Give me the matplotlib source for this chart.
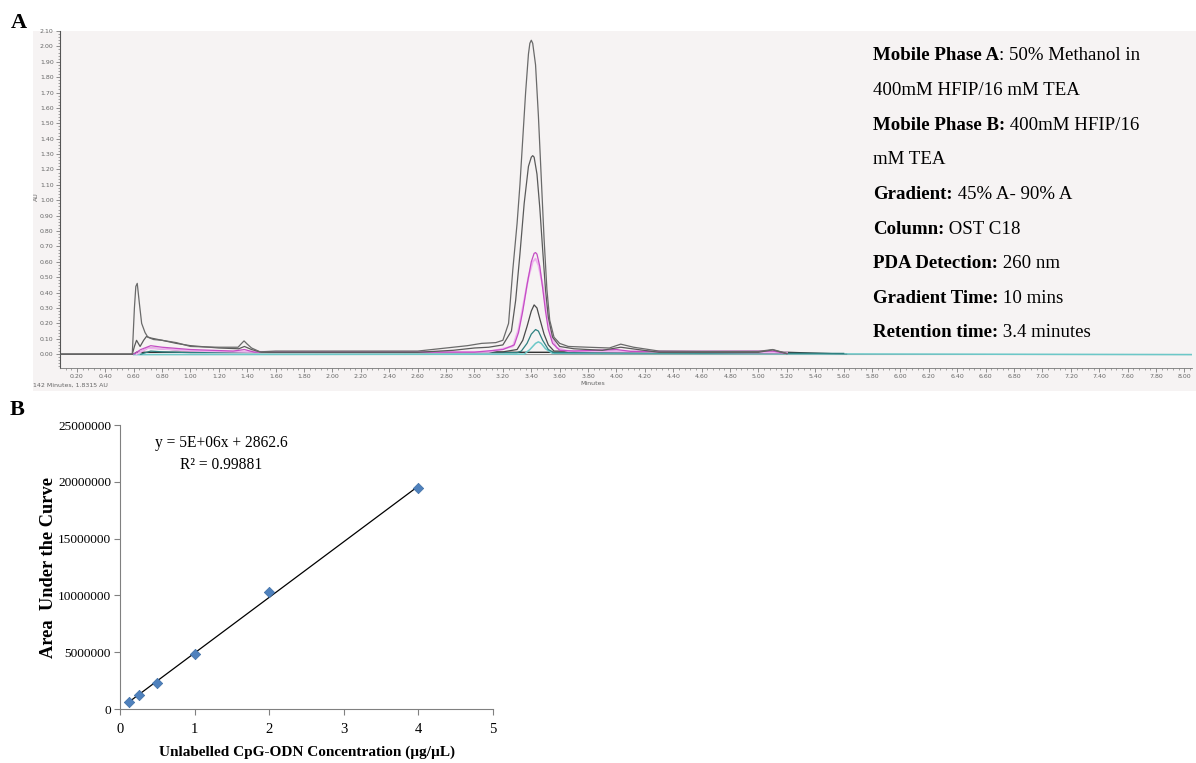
import numpy as np
import matplotlib
matplotlib.use('Agg')
import matplotlib.pyplot as plt
from matplotlib.ticker import MultipleLocator, FormatStrFormatter
from matplotlib.patches import Rectangle

# ---- panel A: chromatogram overlay (time in min, absorbance in AU) ----
t_top = [0.08, 0.59, 0.605, 0.615, 0.625, 0.64, 0.656, 0.68, 0.70, 0.74, 0.80, 0.90, 1.00,
         1.10, 1.20, 1.335, 1.36, 1.377, 1.40, 1.43, 1.49, 1.60, 2.00, 2.60, 2.80, 2.95,
         3.05, 3.15, 3.20, 3.24, 3.27, 3.30, 3.32, 3.34, 3.36, 3.38, 3.39, 3.40, 3.41,
         3.43, 3.45, 3.47, 3.49, 3.51, 3.53, 3.56, 3.60, 3.66, 3.80, 3.95, 4.03, 4.12,
         4.30, 4.60, 5.00, 5.10, 5.20]
au_top = [0.0, 0.0, 0.30, 0.44, 0.46, 0.33, 0.20, 0.14, 0.11, 0.095, 0.09, 0.075, 0.05,
          0.047, 0.045, 0.045, 0.07, 0.086, 0.065, 0.04, 0.015, 0.02, 0.02, 0.02, 0.04, 0.055,
          0.07, 0.075, 0.09, 0.20, 0.55, 0.85, 1.10, 1.40, 1.70, 1.95, 2.02, 2.04, 2.02,
          1.88, 1.55, 1.15, 0.75, 0.42, 0.22, 0.11, 0.07, 0.05, 0.045, 0.04, 0.065, 0.045,
          0.02, 0.018, 0.018, 0.03, 0.005]

t_2 = [0.59, 0.605, 0.62, 0.645, 0.67, 0.69, 0.72, 0.80, 0.90, 1.00, 1.20, 1.34, 1.38, 1.43,
       1.50, 2.60, 2.85, 3.00, 3.10, 3.20, 3.26, 3.29, 3.32, 3.35, 3.38, 3.40, 3.41, 3.42,
       3.44, 3.46, 3.48, 3.50, 3.52, 3.55, 3.60, 3.70, 3.90, 4.03, 4.15, 4.30, 5.00, 5.10, 5.20]
au_2 = [0.0, 0.05, 0.09, 0.05, 0.09, 0.115, 0.105, 0.09, 0.07, 0.055, 0.04, 0.035, 0.05, 0.03,
        0.012, 0.012, 0.025, 0.04, 0.045, 0.06, 0.15, 0.35, 0.65, 0.98, 1.22, 1.28, 1.29, 1.28,
        1.17, 0.95, 0.68, 0.42, 0.24, 0.11, 0.05, 0.035, 0.025, 0.045, 0.03, 0.012, 0.012,
        0.028, 0.003]

t_mag = [0.60, 0.65, 0.72, 0.80, 1.00, 1.30, 1.38, 1.45, 3.00, 3.20, 3.28, 3.31, 3.34, 3.37,
         3.40, 3.42, 3.43, 3.44, 3.46, 3.48, 3.50, 3.52, 3.55, 3.60, 3.70, 4.00, 4.10, 5.10, 5.20]
au_mag = [0.0, 0.03, 0.055, 0.045, 0.03, 0.02, 0.03, 0.013, 0.013, 0.03, 0.06, 0.14, 0.28,
          0.45, 0.60, 0.655, 0.66, 0.65, 0.57, 0.43, 0.28, 0.16, 0.07, 0.025, 0.02, 0.03,
          0.018, 0.02, 0.004]

t_pink = [0.62, 0.70, 0.80, 1.00, 1.40, 3.10, 3.27, 3.31, 3.35, 3.38, 3.41, 3.43, 3.45, 3.48,
          3.51, 3.54, 3.58, 3.66, 5.20]
au_pink = [0.0, 0.04, 0.035, 0.022, 0.015, 0.015, 0.05, 0.16, 0.35, 0.50, 0.60, 0.62, 0.58,
           0.45, 0.27, 0.12, 0.04, 0.02, 0.01]

t_4 = [0.62, 0.70, 0.80, 1.00, 1.40, 3.20, 3.30, 3.34, 3.37, 3.40, 3.42, 3.44, 3.46, 3.49,
       3.52, 3.56, 5.20]
au_4 = [0.0, 0.04, 0.035, 0.02, 0.015, 0.015, 0.03, 0.09, 0.18, 0.28, 0.32, 0.30, 0.23, 0.13,
        0.06, 0.02, 0.01]

t_5 = [0.65, 0.72, 0.80, 1.00, 3.30, 3.33, 3.37, 3.40, 3.43, 3.45, 3.48, 3.52, 3.56, 5.60]
au_5 = [0.0, 0.02, 0.015, 0.01, 0.01, 0.02, 0.07, 0.13, 0.16, 0.15, 0.09, 0.03, 0.01, 0.005]

t_cyan = [0.60, 3.35, 3.39, 3.43, 3.45, 3.47, 3.50, 3.55, 8.05]
au_cyan = [-0.003, 0.0, 0.03, 0.07, 0.08, 0.07, 0.035, 0.005, -0.003]

t_base = [0.08, 0.60, 0.62, 5.20, 5.62]
au_base = [0.0, 0.0, 0.012, 0.012, 0.0]

method_lines = [("Mobile Phase A", ": 50% Methanol in"),
                ("", "400mM HFIP/16 mM TEA"),
                ("Mobile Phase B:", " 400mM HFIP/16"),
                ("", "mM TEA"),
                ("Gradient:", " 45% A- 90% A"),
                ("Column:", " OST C18"),
                ("PDA Detection:", " 260 nm"),
                ("Gradient Time:", " 10 mins"),
                ("Retention time:", " 3.4 minutes")]

# ---- panel B: calibration curve ----
conc = [0.125, 0.25, 0.5, 1, 2, 4]
auc = [640000, 1230000, 2320000, 4840000, 10300000, 19430000]

W, H = 1196, 763
fig = plt.figure(figsize=(W / 100, H / 100), dpi=100)
serif = ['Liberation Serif', 'DejaVu Serif']

def fx(px):
    return px / W

def fy(py):
    return 1 - py / H

bg = '#f6f3f3'
fig.patches.append(Rectangle((fx(33), fy(391)), fx(W - 33), fy(31) - fy(391),
                             transform=fig.transFigure, facecolor=bg, edgecolor='none', zorder=-5))

axA = fig.add_axes([fx(60), fy(368), fx(1192 - 60), fy(31) - fy(368)])
axA.set_zorder(2)
axA.set_facecolor(bg)
axA.set_xlim(0.081, 8.053)
axA.set_ylim(-0.09, 2.10)
for s in ['top', 'right']:
    axA.spines[s].set_visible(False)
axA.spines['left'].set_color('#555555')
axA.spines['bottom'].set_color('#777777')
axA.spines['left'].set_linewidth(0.8)
axA.spines['bottom'].set_linewidth(0.6)

axA.plot(t_base, au_base, color='#333333', lw=1.0, zorder=3)
axA.axhline(0.0, xmin=0.07, color='#9a9a9a', lw=0.8, zorder=2)
axA.plot(t_cyan, au_cyan, color='#6cc8c8', lw=1.1, zorder=3)
axA.plot(t_5, au_5, color='#2e8080', lw=0.9, zorder=3)
axA.plot(t_4, au_4, color='#4a4a4a', lw=0.9, zorder=3)
axA.plot(t_pink, au_pink, color='#efb2ef', lw=1.4, zorder=3)
axA.plot(t_mag, au_mag, color='#c44dc4', lw=0.9, zorder=3)
axA.plot(t_2, au_2, color='#5a5a5a', lw=0.9, zorder=3)
axA.plot(t_top, au_top, color='#6a6a6a', lw=0.9, zorder=3)

axA.xaxis.set_minor_locator(MultipleLocator(0.04))
axA.yaxis.set_minor_locator(MultipleLocator(0.02))
axA.set_xticks([v / 100 for v in range(20, 801, 20)])
axA.set_yticks([v / 100 for v in range(0, 211, 10)])
axA.xaxis.set_major_formatter(FormatStrFormatter('%.2f'))
axA.yaxis.set_major_formatter(FormatStrFormatter('%.2f'))
axA.tick_params(which='both', colors='#666666', labelsize=4.5, pad=1.5)
axA.tick_params(which='major', length=3, width=0.5)
axA.tick_params(which='minor', length=1.6, width=0.4)

fig.text(fx(36), fy(197), 'AU', rotation=90, fontsize=4.5, color='#666666', ha='center', va='center')
fig.text(fx(593), fy(384), 'Minutes', fontsize=4.5, color='#666666', ha='center', va='center')
fig.text(fx(33), fy(385), '142 Minutes, 1.8315 AU', fontsize=4.5, color='#666666', ha='left', va='center')

y0 = 56
fs_m = 13.6
for i, (bold, rest) in enumerate(method_lines):
    yy = fy(y0 + i * 34.6)
    x2 = 873
    if bold:
        t1 = fig.text(fx(873), yy, bold, fontsize=fs_m, fontweight='bold', family=serif,
                      va='center', zorder=5)
        fig.canvas.draw()
        x2 = t1.get_window_extent().x1
    fig.text(x2 / W, yy, rest, fontsize=fs_m, family=serif, va='center', zorder=5)

fig.text(fx(11), fy(23), 'A', fontsize=16, fontweight='bold', family=serif, va='center')
fig.text(fx(10), fy(410), 'B', fontsize=16, fontweight='bold', family=serif, va='center')

# ---- panel B ----
axB = fig.add_axes([fx(120), fy(709), fx(493 - 120), fy(425) - fy(709)])
axB.set_xlim(0, 5)
axB.set_ylim(0, 25000000)
for s in ['top', 'right']:
    axB.spines[s].set_visible(False)
for s in ['left', 'bottom']:
    axB.spines[s].set_color('#808080')
    axB.spines[s].set_linewidth(0.8)
axB.set_xticks([0, 1, 2, 3, 4, 5])
axB.set_yticks([0, 5000000, 10000000, 15000000, 20000000, 25000000])
axB.set_yticklabels(['0', '5000000', '10000000', '15000000', '20000000', '25000000'])
axB.tick_params(direction='out', length=4, width=0.8, color='#808080', labelsize=9.6, pad=2.5)
axB.tick_params(axis='x', labelsize=10.5, pad=6)
for lab in axB.get_xticklabels() + axB.get_yticklabels():
    lab.set_family(serif)

slope, icpt = np.polyfit(conc, auc, 1)
xs = np.array([min(conc), max(conc)])
axB.plot(xs, slope * xs + icpt, color='black', lw=0.9, zorder=2)
axB.scatter(conc, auc, marker='D', s=28, color='#4f81bd', edgecolor='#3e6ea5', lw=0.5, zorder=3)

axB.text(0.094, 0.937, 'y = 5E+06x + 2862.6', transform=axB.transAxes, fontsize=11.2,
         family=serif, ha='left', va='center')
axB.text(0.161, 0.859, 'R² = 0.99881', transform=axB.transAxes, fontsize=11.2,
         family=serif, ha='left', va='center')

fig.text(fx(307), fy(752), 'Unlabelled CpG-ODN Concentration (µg/µL)', fontsize=11,
         fontweight='bold', family=serif, ha='center', va='center')
fig.text(fx(49), fy(567), 'Area  Under the Curve', rotation=90, fontsize=13.2,
         fontweight='bold', family=serif, ha='center', va='center')

fig.savefig('out.png', dpi=100, facecolor='white')
